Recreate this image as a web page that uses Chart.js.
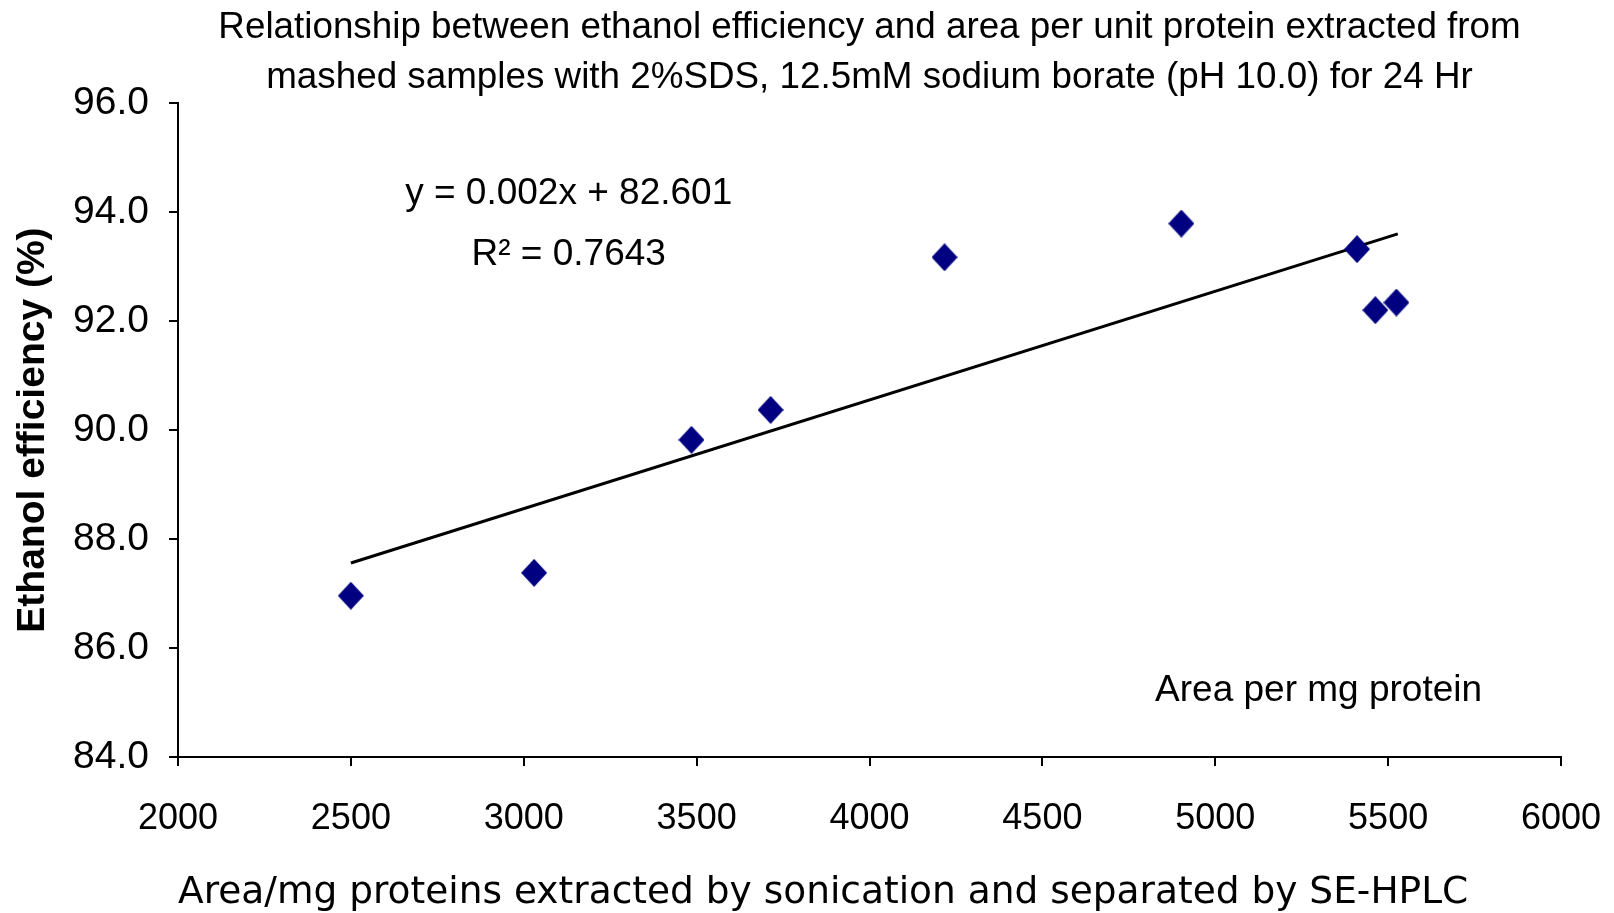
<!DOCTYPE html>
<html>
<head>
<meta charset="utf-8">
<script src="https://cdn.jsdelivr.net/npm/chart.js@4"></script>
<style>
  html, body { margin: 0; padding: 0; background: #fff; }
  #wrap { width: 1614px; height: 913px; }
</style>
</head>
<body>
<div id="wrap"><canvas id="chart" width="1614" height="913"></canvas></div>
<script>
// values
const areaPerMg = [2500, 3030, 3485, 3714, 4217, 4902, 5410, 5463, 5524];
const ethanolEff = [86.96, 87.38, 89.82, 90.37, 93.17, 93.79, 93.32, 92.2, 92.34];
const trendX = [2500, 5528];
const trendY = [87.56, 93.6];
const yTicks = [84, 86, 88, 90, 92, 94, 96];
const xTicks = [2000, 2500, 3000, 3500, 4000, 4500, 5000, 5500, 6000];
const eqLines = ['y = 0.002x + 82.601', 'R\u00B2 = 0.7643'];

// diamond marker
const diamond = document.createElement('canvas');
diamond.width = 26; diamond.height = 28;
const dctx = diamond.getContext('2d');
dctx.fillStyle = '#000080';
dctx.beginPath();
dctx.moveTo(13, 0); dctx.lineTo(26, 14); dctx.lineTo(13, 28); dctx.lineTo(0, 14);
dctx.closePath(); dctx.fill();

const textPlugin = {
    id: 'textPlugin',
    afterDraw(chart) {
        const ctx = chart.ctx
        const xs = chart.scales.x, ys = chart.scales.y
        ctx.save()
        ctx.fillStyle = '#000'
        ctx.textAlign = 'center'
        ctx.textBaseline = 'middle'
        ctx.font = '37px "Liberation Sans", Arial, sans-serif'
        ctx.fillText(eqLines[0], xs.getPixelForValue(3130), ys.getPixelForValue(94.34))
        ctx.fillText(eqLines[1], xs.getPixelForValue(3130), ys.getPixelForValue(93.22))
        // legend entry
        ctx.font = '37px "Liberation Sans", Arial, sans-serif'
        ctx.textAlign = 'left'
        ctx.fillText(chart.data.datasets[0].label, xs.getPixelForValue(4826), ys.getPixelForValue(85.22))
        ctx.restore()
    }
}

new Chart(document.getElementById('chart'), {
    type: 'scatter',
    data: {
        datasets: [{
            label: 'Area per mg protein',
            data: areaPerMg.map((x, i) => ({ x: x, y: ethanolEff[i] })),
            pointStyle: diamond,
            pointRadius: 13,
            showLine: false,
            order: 1
        }, {
            label: 'Linear (Area per mg protein)',
            type: 'line',
            data: trendX.map((x, i) => ({ x: x, y: trendY[i] })),
            borderColor: '#000',
            borderWidth: 3,
            pointRadius: 0,
            fill: false,
            order: 2
        }]
    },
    options: {
        responsive: false,
        animation: false,
        layout: { padding: { left: 0, right: 53, top: 0, bottom: 0 } },
        plugins: {
            legend: { display: false },
            tooltip: { enabled: false },
            title: {
                display: true,
                fullSize: false,
                text: ['Relationship between ethanol efficiency and area per unit protein extracted from',
                       'mashed samples with 2%SDS, 12.5mM sodium borate (pH 10.0) for 24 Hr'],
                color: '#000',
                font: { family: '"Liberation Sans", Arial, sans-serif', size: 36.8, weight: 'normal', lineHeight: 1.36 },
                padding: { top: 3, bottom: 0 }
            }
        },
        scales: {
            x: {
                type: 'linear',
                min: 2000,
                max: 6000,
                afterBuildTicks: s => { s.ticks = xTicks.map(v => ({ value: v })) },
                afterFit: s => { s.height = 156; s.paddingLeft = 0; s.paddingRight = 0 },
                grid: { display: true, drawOnChartArea: false, drawTicks: true, tickLength: 9, color: '#000', lineWidth: 2 },
                border: { display: true, color: '#000', width: 2 },
                ticks: {
                    color: '#000',
                    padding: 31,
                    maxRotation: 0,
                    callback: v => String(v),
                    font: { family: '"Liberation Sans", Arial, sans-serif', size: 36 }
                },
                title: {
                    display: true,
                    align: 'start',
                    text: 'Area/mg proteins extracted by sonication and separated by SE-HPLC',
                    color: '#000',
                    font: { family: '"DejaVu Sans", Verdana, sans-serif', size: 37.5, lineHeight: 1.0 },
                    padding: { top: 1, bottom: 1 }
                }
            },
            y: {
                min: 84,
                max: 96,
                afterBuildTicks: s => { s.ticks = yTicks.map(v => ({ value: v })) },
                afterFit: s => { s.width = 178 },
                grid: { display: true, drawOnChartArea: false, drawTicks: true, tickLength: 9, color: '#000', lineWidth: 2 },
                border: { display: true, color: '#000', width: 2 },
                ticks: {
                    color: '#000',
                    padding: 20,
                    callback: v => v.toFixed(1),
                    font: { family: '"Liberation Sans", Arial, sans-serif', size: 39 }
                },
                title: {
                    display: true,
                    text: 'Ethanol efficiency (%)',
                    color: '#000',
                    font: { family: '"Liberation Sans", Arial, sans-serif', size: 39, weight: 'bold', lineHeight: 1.2 },
                    padding: { top: 10, bottom: 0 }
                }
            }
        }
    },
    plugins: [textPlugin]
});
</script>
</body>
</html>
